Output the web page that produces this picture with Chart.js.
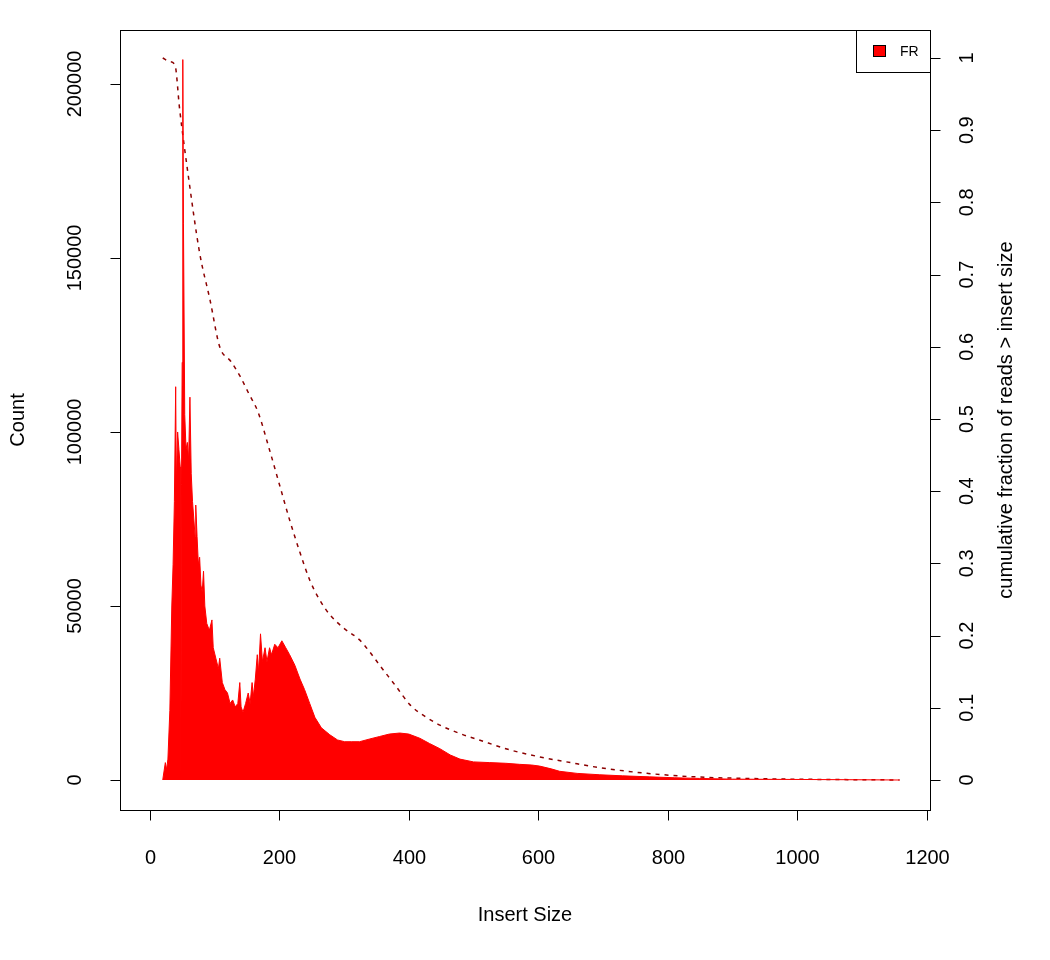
<!DOCTYPE html>
<html>
<head>
<meta charset="UTF-8">
<script src="https://cdn.jsdelivr.net/npm/chart.js@4"></script>
<style>body{margin:0;background:#fff}</style>
</head>
<body>
<div style="width:1050px;height:960px"><canvas id="c"></canvas></div>
<script>
// histogram (insert size, count)
const insertSize = [20,24,26,28,31,34,36,38,40,41,43,45,47,48,49,50,51,52,54,56,58,60,62,64,66,68,70,71,73,75,77,79,81,83,85,88,92,96,98,102,106,108,112,116,120,124,128,132,136,139,141,144,148,152,155,158,160,163,166,168,171,174,178,181,185,188,193,198,204,210,216,224,232,239,247,255,265,278,290,301,312,324,340,355,370,386,400,417,432,448,464,479,500,525,550,571,590,602,620,633,660,695,730,772,810,849,900,1004,1080,1158];
const counts = [0,5000,3000,6000,20000,50000,62000,80000,113000,85000,100000,95000,90000,0,85000,120000,207000,160000,105000,95000,97000,92000,110000,88000,80000,75000,70000,79000,70000,62000,64000,56000,54000,60000,50000,45000,43000,46000,38000,35000,32000,35000,28000,26000,25000,22000,23000,21000,22000,28000,21000,19500,22000,25000,22000,28000,24000,29000,36000,31000,42000,34000,38000,34000,38000,36000,39000,38000,40000,38000,36000,33000,29000,26000,22000,18000,15000,13000,11500,11000,11000,11000,11800,12500,13200,13500,13200,12000,10500,9000,7200,6000,5200,5000,4800,4500,4300,4000,3200,2500,1900,1500,1200,900,650,450,250,150,80,0];
// cumulative fraction of reads > insert size
const cumX = [20,31,39,46,59,77,93,108,125,139,153,167,185,200,216,232,247,262,278,300,324,340,355,380,402,425,448,480,510,555,602,650,695,770,849,930,1004,1158];
const cumY = [1.0,0.995,0.99,0.93,0.84,0.73,0.665,0.60,0.58,0.56,0.535,0.51,0.457,0.41,0.36,0.315,0.277,0.25,0.229,0.21,0.194,0.177,0.159,0.13,0.104,0.088,0.076,0.064,0.055,0.042,0.032,0.024,0.017,0.009,0.004,0.002,0.001,0.0];
const xTicks = [0,200,400,600,800,1000,1200];
const yTicks = [0,50000,100000,150000,200000];
const y1Ticks = [0,0.1,0.2,0.3,0.4,0.5,0.6,0.7,0.8,0.9,1];

const FONT = '"Liberation Sans", Arial, sans-serif';

const rAxes = {
  id: 'rAxes',
  afterDraw(chart) {
    const ctx = chart.ctx, a = chart.chartArea;
    const sx = chart.scales.x, sy = chart.scales.y, sy1 = chart.scales.y1;
    ctx.save();
    ctx.strokeStyle = '#000'; ctx.fillStyle = '#000'; ctx.lineWidth = 1;
    ctx.strokeRect(a.left + 0.5, a.top + 0.5, a.right - a.left, a.bottom - a.top);
    ctx.font = '20px ' + FONT;
    // x axis
    const xb = a.bottom + 0.5;
    ctx.beginPath();
    ctx.moveTo(sx.getPixelForValue(xTicks[0]), xb);
    ctx.lineTo(sx.getPixelForValue(xTicks[xTicks.length - 1]), xb);
    ctx.textAlign = 'center'; ctx.textBaseline = 'middle';
    xTicks.forEach(v => {
      const p = Math.round(sx.getPixelForValue(v)) + 0.5;
      ctx.moveTo(p, xb); ctx.lineTo(p, xb + 10);
      ctx.fillText(String(v), p, a.bottom + 48);
    });
    ctx.stroke();
    // left axis
    const yl = a.left + 0.5;
    ctx.beginPath();
    ctx.moveTo(yl, sy.getPixelForValue(yTicks[0]));
    ctx.lineTo(yl, sy.getPixelForValue(yTicks[yTicks.length - 1]));
    yTicks.forEach(v => {
      const p = Math.round(sy.getPixelForValue(v)) + 0.5;
      ctx.moveTo(yl, p); ctx.lineTo(yl - 10, p);
    });
    ctx.stroke();
    yTicks.forEach(v => {
      const p = sy.getPixelForValue(v);
      ctx.save(); ctx.translate(a.left - 45, p); ctx.rotate(-Math.PI / 2);
      ctx.fillText(String(v), 0, 0); ctx.restore();
    });
    // right axis
    const yr = a.right + 0.5;
    ctx.beginPath();
    ctx.moveTo(yr, sy1.getPixelForValue(0));
    ctx.lineTo(yr, sy1.getPixelForValue(1));
    y1Ticks.forEach(v => {
      const p = Math.round(sy1.getPixelForValue(v)) + 0.5;
      ctx.moveTo(yr, p); ctx.lineTo(yr + 10, p);
    });
    ctx.stroke();
    y1Ticks.forEach(v => {
      const p = sy1.getPixelForValue(v);
      ctx.save(); ctx.translate(a.right + 37, p); ctx.rotate(-Math.PI / 2);
      ctx.fillText(String(v), 0, 0); ctx.restore();
    });
    // titles
    ctx.fillText('Insert Size', (a.left + a.right) / 2, 915);
    ctx.save(); ctx.translate(18, (a.top + a.bottom) / 2); ctx.rotate(-Math.PI / 2);
    ctx.fillText('Count', 0, 0); ctx.restore();
    ctx.save(); ctx.translate(1006, (a.top + a.bottom) / 2); ctx.rotate(-Math.PI / 2);
    ctx.fillText('cumulative fraction of reads > insert size', 0, 0); ctx.restore();
    // legend
    ctx.fillStyle = '#fff';
    ctx.fillRect(856, a.top, a.right - 856, 42);
    ctx.strokeRect(856.5, a.top + 0.5, a.right - 856, 42);
    ctx.fillStyle = '#ff0000';
    ctx.fillRect(873, 45, 13, 12);
    ctx.strokeRect(873.5, 45.5, 12, 11);
    ctx.fillStyle = '#000';
    ctx.font = '14px ' + FONT; ctx.textAlign = 'left';
    ctx.fillText('FR', 900, 52);
    ctx.restore();
  }
};

new Chart(document.getElementById('c'), {
  type: 'line',
  data: {
    datasets: [
      {
        data: insertSize.map((x, i) => ({x: x, y: counts[i]})),
        yAxisID: 'y', borderColor: '#ff0000', backgroundColor: '#ff0000',
        borderWidth: 1, pointRadius: 0, fill: 'origin', tension: 0
      },
      {
        data: cumX.map((x, i) => ({x: x, y: cumY[i]})),
        yAxisID: 'y1', borderColor: '#8b0000', borderDash: [4, 5],
        borderWidth: 1.5, pointRadius: 0, fill: false, cubicInterpolationMode: 'monotone'
      }
    ]
  },
  options: {
    responsive: true, maintainAspectRatio: false, animation: false,
    layout: {padding: {left: 120, top: 30, right: 120, bottom: 150}},
    plugins: {legend: {display: false}, tooltip: {enabled: false}},
    scales: {
      x: {type: 'linear', display: false, min: -46, max: 1205},
      y: {display: false, min: -8620, max: 215500},
      y1: {display: false, min: -0.0416, max: 1.0388}
    }
  },
  plugins: [rAxes]
});
</script>
</body>
</html>
